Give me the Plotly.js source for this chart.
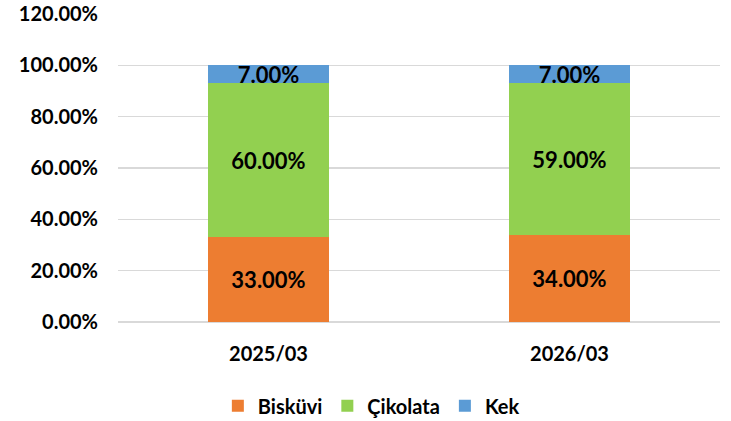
<!DOCTYPE html>
<html>
<head>
<meta charset="utf-8">
<script src="https://cdn.plot.ly/plotly-3.0.1.min.js"></script>
<style>html,body{margin:0;padding:0;background:#fff;}#chart{width:731px;height:421px;}</style>
</head>
<body>
<div id="chart"></div>
<script>
const categories = ["2025/03", "2026/03"];
const biskuvi = [33, 34];
const cikolata = [60, 59];
const kek = [7, 7];
const seriesNames = ["Bisküvi", "Çikolata", "Kek"];
const tickVals = [0, 20, 40, 60, 80, 100, 120];
const tickText = ["0.00%", "20.00%", "40.00%", "60.00%", "80.00%", "100.00%", "120.00%"];

const FONT = "Lato, 'Liberation Sans', sans-serif";
const colors = ["#ED7D31", "#92D050", "#5B9BD5"];
const allSeries = [biskuvi, cikolata, kek];

const traces = allSeries.map((vals, i) => ({
  type: "bar",
  name: seriesNames[i],
  x: categories,
  y: vals,
  marker: { color: colors[i] },
  text: vals.map(v => v.toFixed(2) + "%"),
  textposition: "inside",
  insidetextanchor: "middle",
  constraintext: "none",
  textangle: 0,
  textfont: { family: FONT, size: 22, color: "#000", weight: "bold" },
  hoverinfo: "skip"
}));

const layout = {
  width: 731, height: 421,
  margin: { l: 118, r: 11, t: 14, b: 99 },
  barmode: "stack",
  bargap: 0.595,
  paper_bgcolor: "#fff",
  plot_bgcolor: "#fff",
  font: { family: FONT, size: 20, color: "#000", weight: "bold" },
  xaxis: {
    showgrid: false, showline: false, zeroline: false, ticks: "",
    tickfont: { family: FONT, size: 20, color: "#000", weight: "bold" },
    ticklabelstandoff: 18, automargin: false
  },
  yaxis: {
    range: [0, 120], tickvals: tickVals, ticktext: tickText,
    showgrid: true, gridcolor: "#D9D9D9", gridwidth: 1.5,
    zeroline: true, zerolinecolor: "#D9D9D9", zerolinewidth: 1.5,
    showline: false, ticks: "",
    tickfont: { family: FONT, size: 20, color: "#000", weight: "bold" },
    ticklabelstandoff: 19, automargin: false
  },
  showlegend: true,
  legend: {
    orientation: "h", xref: "container", yref: "container",
    x: 0.508, xanchor: "center", y: 0.036, yanchor: "middle",
    font: { family: FONT, size: 20, color: "#000", weight: "bold" },
    traceorder: "normal", itemwidth: 30
  }
};

Plotly.newPlot("chart", traces, layout, { staticPlot: true, displayModeBar: false });
</script>
</body>
</html>
